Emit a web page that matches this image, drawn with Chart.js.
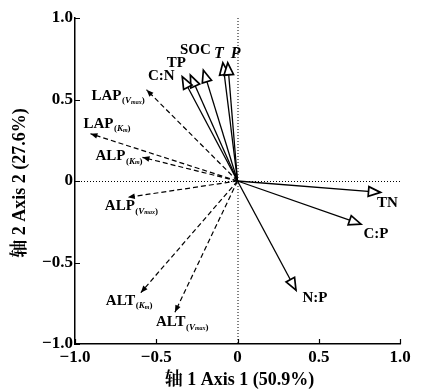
<!DOCTYPE html>
<html><head><meta charset="utf-8">
<script src="https://cdn.jsdelivr.net/npm/chart.js@4.4.1/dist/chart.umd.min.js"></script>
<style>html,body{margin:0;padding:0;background:#fff}#wrap{width:421px;height:391px}</style>
</head><body><div id="wrap"><canvas id="c" width="421" height="391"></canvas></div>
<script>
// Environmental variables (solid arrows)
const solidNames = ['TN', 'C:P', 'N:P', 'SOC', 'TP', 'C:N', 'T', 'P'];
const solidX = [0.88, 0.76, 0.36, -0.21, -0.29, -0.34, -0.09, -0.06];
const solidY = [-0.07, -0.265, -0.67, 0.68, 0.65, 0.64, 0.725, 0.725];
// Enzyme kinetic parameters (dashed arrows)
const dashedNames = ['LAP', 'LAP', 'ALP', 'ALP', 'ALT', 'ALT'];
const dashedSub = ['Vmax', 'Km', 'Km', 'Vmax', 'Km', 'Vmax'];
const dashedX = [-0.56, -0.905, -0.585, -0.675, -0.595, -0.385];
const dashedY = [0.56, 0.29, 0.145, -0.10, -0.685, -0.805];
// Axis ticks & titles
const tickValues = [-1, -0.5, 0, 0.5, 1];
const xTitle = '轴 1 Axis 1 (50.9%)';
const yTitle = '轴 2 Axis 2 (27.6%)';

// label placement (pixel offsets from arrow tip), kept separate from data
const solidLabelOff = [[7,11],[15,10],[19,8],[-8,-20],[-14,-12],[-21,-1],[-4,-9],[8,-9]];
const dashedLabelOff = [[-55,6],[-7,-10],[-47,-1],[-23,9],[-35,8],[-19,10]];

const SERIF = '"Liberation Serif","Times New Roman","Noto Serif CJK SC","Noto Sans CJK SC",serif';

const datasets = [];
solidNames.forEach((n, i) => datasets.push({
  label: n, kind: 'solid', idx: i,
  data: [{x: 0, y: 0}, {x: solidX[i], y: solidY[i]}],
  showLine: true, borderColor: '#000', borderWidth: 1.3, pointRadius: 0
}));
dashedNames.forEach((n, i) => datasets.push({
  label: n + '(' + dashedSub[i] + ')', kind: 'dashed', idx: i,
  data: [{x: 0, y: 0}, {x: dashedX[i], y: dashedY[i]}],
  showLine: true, borderColor: '#000', borderWidth: 1.2, borderDash: [5, 3], pointRadius: 0
}));

function fmt(v) {
  if (Math.abs(v) < 1e-9) return '0';
  return (v < 0 ? '\u2212' : '') + Math.abs(v).toFixed(1);
}

const biplot = {
  id: 'biplot',
  beforeDatasetsDraw(chart) {
    const {ctx, chartArea: a, scales: {x, y}} = chart;
    const ox = x.getPixelForValue(0), oy = y.getPixelForValue(0);
    ctx.save();
    ctx.strokeStyle = '#000'; ctx.lineWidth = 1; ctx.setLineDash([1, 2]);
    ctx.beginPath();
    ctx.moveTo(ox + 0.5, a.top); ctx.lineTo(ox + 0.5, a.bottom);
    ctx.moveTo(a.left, oy + 0.5); ctx.lineTo(a.right, oy + 0.5);
    ctx.stroke();
    ctx.restore();
  },
  afterDatasetsDraw(chart) {
    const {ctx, scales: {x, y}} = chart;
    const ox = x.getPixelForValue(0), oy = y.getPixelForValue(0);
    ctx.save();
    chart.data.datasets.forEach(ds => {
      const p = ds.data[1];
      const tx = x.getPixelForValue(p.x), ty = y.getPixelForValue(p.y);
      const ang = Math.atan2(ty - oy, tx - ox);
      const c = Math.cos(ang), s = Math.sin(ang);
      const L = ds.kind === 'solid' ? 12 : 7;
      const W = ds.kind === 'solid' ? 4.8 : 2.8;
      const bx = tx - L * c, by = ty - L * s;
      ctx.setLineDash([]);
      ctx.beginPath();
      ctx.moveTo(tx, ty);
      ctx.lineTo(bx - W * s, by + W * c);
      ctx.lineTo(bx + W * s, by - W * c);
      ctx.closePath();
      if (ds.kind === 'solid') {
        ctx.fillStyle = '#fff'; ctx.fill();
        ctx.strokeStyle = '#000'; ctx.lineWidth = 1.7; ctx.stroke();
      } else {
        ctx.fillStyle = '#000'; ctx.fill();
      }
      // labels
      ctx.fillStyle = '#000';
      ctx.textBaseline = 'middle';
      if (ds.kind === 'solid') {
        const off = solidLabelOff[ds.idx];
        const name = solidNames[ds.idx];
        const italic = (name === 'T' || name === 'P');
        ctx.font = (italic ? 'italic bold 16px ' : 'bold 15px ') + SERIF;
        ctx.textAlign = 'center';
        ctx.fillText(name, tx + off[0], ty + off[1]);
      } else {
        const off = dashedLabelOff[ds.idx];
        let lx = tx + off[0];
        const ly = ty + off[1];
        ctx.textAlign = 'left';
        ctx.font = 'bold 15px ' + SERIF;
        const main = dashedNames[ds.idx];
        ctx.fillText(main, lx, ly);
        lx += ctx.measureText(main).width + 0.5;
        const sy = ly + 5;
        const sub = dashedSub[ds.idx];
        const parts = [['(', 'bold 9px '], [sub[0], 'italic bold 9px '], [sub.slice(1), 'italic bold 6px '], [')', 'bold 9px ']];
        parts.forEach(([t, f]) => {
          ctx.font = f + SERIF;
          ctx.fillText(t, lx, sy + (f.indexOf('6px') >= 0 ? 1.5 : 0));
          lx += ctx.measureText(t).width;
        });
      }
    });
    ctx.restore();
  },
  afterDraw(chart) {
    const {ctx, chartArea: a, scales: {x, y}} = chart;
    ctx.save();
    ctx.strokeStyle = '#000'; ctx.lineWidth = 1.2;
    ctx.beginPath();
    tickValues.forEach(v => {
      const px = Math.round(x.getPixelForValue(v)) + 0.5;
      ctx.moveTo(px, a.bottom); ctx.lineTo(px, a.bottom - 5);
      const py = Math.round(y.getPixelForValue(v)) + 0.5;
      ctx.moveTo(a.left, py); ctx.lineTo(a.left + 5, py);
    });
    ctx.stroke();
    ctx.fillStyle = '#000';
    ctx.font = 'bold 18px ' + SERIF;
    ctx.textAlign = 'center'; ctx.textBaseline = 'middle';
    ctx.fillText(xTitle, (a.left + a.right) / 2 + 2, 380);
    ctx.translate(20, (a.top + a.bottom) / 2 + 2);
    ctx.rotate(-Math.PI / 2);
    ctx.fillText(yTitle, 0, 0);
    ctx.restore();
  }
};

new Chart(document.getElementById('c'), {
  type: 'scatter',
  data: {datasets},
  plugins: [biplot],
  options: {
    responsive: false, animation: false, devicePixelRatio: 1,
    layout: {padding: {top: 18, right: 21, left: 0, bottom: 0}},
    plugins: {legend: {display: false}, tooltip: {enabled: false}},
    scales: {
      x: {
        type: 'linear', min: -1, max: 1,
        afterFit: s => { s.height = 47; },
        afterBuildTicks: s => { s.ticks = tickValues.map(v => ({value: v})); },
        grid: {display: false, drawTicks: false},
        border: {display: true, color: '#000', width: 1.5},
        ticks: {padding: 3, color: '#000', font: {family: SERIF, size: 17, weight: 'bold'}, callback: fmt, maxRotation: 0, autoSkip: false}
      },
      y: {
        type: 'linear', min: -1, max: 1,
        afterFit: s => { s.width = 75; },
        afterBuildTicks: s => { s.ticks = tickValues.map(v => ({value: v})); },
        grid: {display: false, drawTicks: false},
        border: {display: true, color: '#000', width: 1.5},
        ticks: {padding: 2, color: '#000', font: {family: SERIF, size: 17, weight: 'bold'}, callback: fmt, autoSkip: false}
      }
    }
  }
});
</script></body></html>
